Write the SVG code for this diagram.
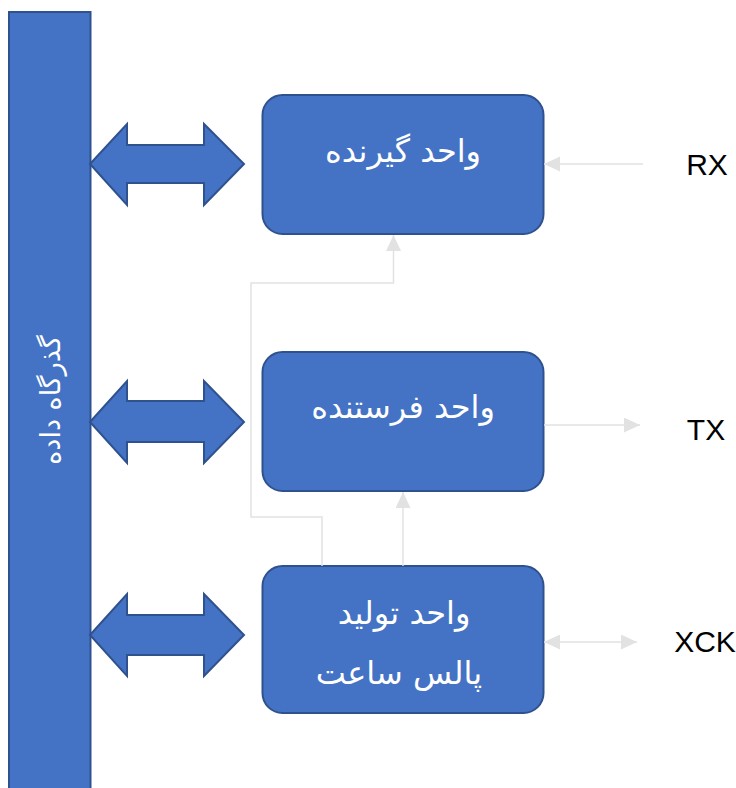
<svg xmlns="http://www.w3.org/2000/svg" width="736" height="788" viewBox="0 0 736 788">
<style>
.blk{fill:#4472C4;stroke:#2F528F;stroke-width:2}
.fa{font-family:"DejaVu Sans","Noto Sans",sans-serif;fill:#ffffff;font-size:32px;text-anchor:middle}
.bus{font-size:27px}
.lbl{font-family:"Liberation Sans",Arial,sans-serif;fill:#000000;font-size:30px;text-anchor:middle}
.con{fill:none;stroke:#E2E2E2;stroke-width:1.5}
</style>
<defs>
<marker id="ah" viewBox="0 0 16 15" refX="16" refY="7.5" markerWidth="16" markerHeight="15" markerUnits="userSpaceOnUse" orient="auto-start-reverse">
<path d="M0,0 L16,7.5 L0,15 Z" fill="#E2E2E2"/>
</marker>
</defs>
<rect width="736" height="788" fill="#ffffff"/>
<g id="bus">
<rect class="blk" x="9" y="12" width="81.5" height="790"/>
<text class="fa bus" transform="translate(50,400) rotate(-90)" x="0" y="10" direction="rtl">گذرگاه داده</text>
</g>
<g id="arrow1"><path class="blk" d="M90,164 L127,124 L127,145 L204,145 L204,124 L244,164 L204,205 L204,183 L127,183 L127,205 Z"/></g>
<g id="arrow2"><path class="blk" d="M90,422 L127,381 L127,401 L204,401 L204,381 L244,422 L204,463 L204,442 L127,442 L127,463 Z"/></g>
<g id="arrow3"><path class="blk" d="M90,635 L127,594 L127,615 L204,615 L204,594 L244,635 L204,676 L204,655 L127,655 L127,676 Z"/></g>
<g id="rx-unit">
<rect class="blk" x="262.5" y="95" width="281" height="139" rx="20"/>
<text class="fa" x="403" y="162" direction="rtl">واحد گیرنده</text>
</g>
<g id="tx-unit">
<rect class="blk" x="262.5" y="352" width="281" height="139" rx="20"/>
<text class="fa" x="403" y="418" direction="rtl">واحد فرستنده</text>
</g>
<g id="clk-unit">
<rect class="blk" x="262.5" y="566" width="281" height="147" rx="20"/>
<text class="fa" x="404" y="624" direction="rtl">واحد تولید</text>
<text class="fa" x="399" y="684" direction="rtl">پالس ساعت</text>
</g>
<g id="connectors">
<path class="con" d="M643,164 L544,164" marker-end="url(#ah)"/>
<path class="con" d="M544,425 L640,425" marker-end="url(#ah)"/>
<path class="con" d="M544,642 L637,642" marker-start="url(#ah)" marker-end="url(#ah)"/>
<path class="con" d="M322,566 L322,517 L251,517 L251,283 L393.5,283 L393.5,235" marker-end="url(#ah)"/>
<path class="con" d="M403,566 L403,492" marker-end="url(#ah)"/>
</g>
<g id="labels">
<text class="lbl" x="707" y="175">RX</text>
<text class="lbl" x="706" y="440">TX</text>
<text class="lbl" x="705" y="652">XCK</text>
</g>
</svg>
